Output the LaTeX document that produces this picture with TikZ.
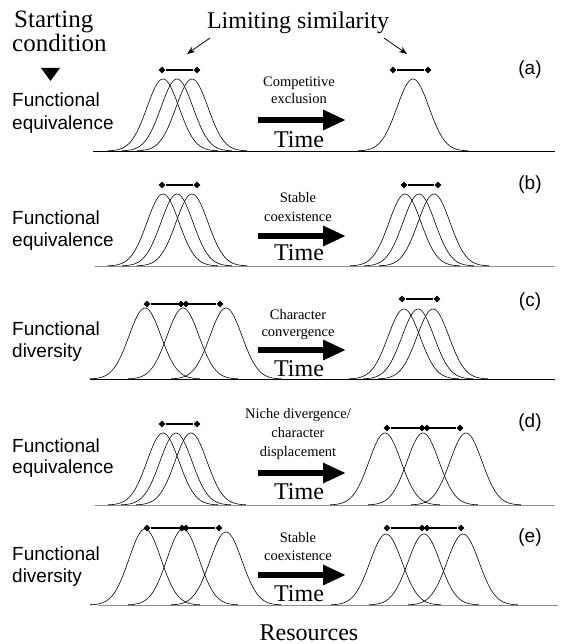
\documentclass[tikz,border=0pt]{standalone}
\usepackage{fontspec}
\setmainfont{Liberation Serif}
\setsansfont{Liberation Sans}
\usetikzlibrary{arrows.meta,shapes.geometric}
\newcommand\gaussc[3]{\draw[curve] plot[domain=-55:55,samples=75,smooth] ({#1+\x},{#2-#3*exp(-(\x*\x)/(2*16*16))});}
\tikzset{
 curve/.style={line width=0.6pt},
 baseln/.style={line width=0.9pt},
 greyln/.style={line width=0.9pt, draw=black!45},
 simbar/.style={line width=1.1pt},
 dia/.style={diamond, fill=black, inner sep=0pt, minimum width=7pt, minimum height=7pt},
 func/.style={font=\sffamily\fontsize{19}{22}\selectfont, anchor=base west, inner sep=0pt},
 plab/.style={font=\sffamily\fontsize{19}{22}\selectfont, inner sep=0pt},
 proc/.style={font=\fontsize{14.5}{18}\selectfont, anchor=base, inner sep=0pt},
 timelab/.style={font=\fontsize{24}{28}\selectfont, anchor=base, inner sep=0pt},
 headlab/.style={font=\fontsize{25}{29}\selectfont, anchor=base west, inner sep=0pt},
 timearrow/.style={line width=6pt, -{Triangle[length=23pt,width=19pt]}},
 pointer/.style={line width=0.8pt, -{Stealth[length=8pt,width=6pt]}},
}
\begin{document}
\begin{tikzpicture}[x=1pt,y=-1pt]
\useasboundingbox (0,0) rectangle (562,644);
% header
\node[headlab] (start1) at (14,28) {Starting};
\node[headlab] (start2) at (12,51.5) {condition};
\fill (41,68) -- (60,68) -- (50.5,81) -- cycle;
\node[timelab] (lim) at (298,29) {Limiting similarity};
\coordinate (lp1s) at (210,38); \coordinate (lp1e) at (187,54);
\coordinate (lp2s) at (384,38); \coordinate (lp2e) at (407,54);
\draw[pointer] (lp1s) -- (lp1e);
\draw[pointer] (lp2s) -- (lp2e);
% ---------- panel a
\draw[baseln] (93,151) -- (555,151);
\gaussc{163}{151}{72}\gaussc{177}{151}{72}\gaussc{192}{151}{72}
\gaussc{413}{151}{72}
\node[dia] (a1) at (162,70) {}; \node[dia] (a2) at (197,70) {};
\draw[simbar] (a1) -- (a2);
\node[dia] (a3) at (393,70) {}; \node[dia] (a4) at (428,70) {};
\draw[simbar] (a3) -- (a4);
\node[func] (fa1) at (12,107) {Functional};
\node[func] (fa2) at (12,130) {equivalence};
\node[proc] (pa1) at (299,87) {Competitive};
\node[proc] (pa2) at (299,104) {exclusion};
\coordinate (as) at (258,120); \coordinate (ae) at (346,120);
\draw[timearrow] (as) -- (ae);
\node[timelab] (ta) at (299,148) {Time};
\node[plab] (la) at (530,70) {(a)};
% ---------- panel b
\draw[greyln] (95,266) -- (555,266);
\gaussc{163}{266}{72}\gaussc{177}{266}{72}\gaussc{192}{266}{72}
\gaussc{405}{266}{72}\gaussc{419}{266}{72}\gaussc{434}{266}{72}
\node[dia] (b1) at (162,185) {}; \node[dia] (b2) at (197,185) {};
\draw[simbar] (b1) -- (b2);
\node[dia] (b3) at (404,185) {}; \node[dia] (b4) at (438,185) {};
\draw[simbar] (b3) -- (b4);
\node[func] (fb1) at (12,224) {Functional};
\node[func] (fb2) at (12,246) {equivalence};
\node[proc] (pb1) at (298,203) {Stable};
\node[proc] (pb2) at (298,221) {coexistence};
\coordinate (bs) at (258,236); \coordinate (be) at (346,236);
\draw[timearrow] (bs) -- (be);
\node[timelab] (tb) at (299,260) {Time};
\node[plab] (lb) at (530,185) {(b)};
% ---------- panel c
\draw[baseln] (90,379) -- (555,379);
\gaussc{145}{379}{71}\gaussc{183}{379}{71}\gaussc{226}{379}{71}
\gaussc{404}{379}{70}\gaussc{418}{379}{70}\gaussc{433}{379}{70}
\node[dia] (c1) at (147,304) {}; \node[dia] (c2) at (181,304) {};
\node[dia] (c3) at (186,304) {}; \node[dia] (c4) at (220,304) {};
\draw[simbar] (c1) -- (c4);
\node[dia] (c5) at (402,299) {}; \node[dia] (c6) at (437,299) {};
\draw[simbar] (c5) -- (c6);
\node[func] (fc1) at (12,335) {Functional};
\node[func] (fc2) at (12,357) {diversity};
\node[proc] (pc1) at (298,319) {Character};
\node[proc] (pc2) at (298,336) {convergence};
\coordinate (cs) at (258,350); \coordinate (ce) at (346,350);
\draw[timearrow] (cs) -- (ce);
\node[timelab] (tc) at (299,376) {Time};
\node[plab] (lc) at (530,302) {(c)};
% ---------- panel d
\draw[greyln] (95,505) -- (555,505);
\gaussc{163}{505}{72}\gaussc{176}{505}{72}\gaussc{191}{505}{72}
\gaussc{385}{505}{72}\gaussc{423}{505}{72}\gaussc{466}{505}{72}
\node[dia] (d1) at (162,424) {}; \node[dia] (d2) at (197,424) {};
\draw[simbar] (d1) -- (d2);
\node[dia] (d3) at (387,428) {}; \node[dia] (d4) at (422,428) {};
\node[dia] (d5) at (427,428) {}; \node[dia] (d6) at (460,428) {};
\draw[simbar] (d3) -- (d6);
\node[func] (fd1) at (12,452) {Functional};
\node[func] (fd2) at (12,473) {equivalence};
\node[proc] (pd1) at (298,418) {Niche divergence/};
\node[proc] (pd2) at (298,437) {character};
\node[proc] (pd3) at (298,456) {displacement};
\coordinate (ds) at (258,473); \coordinate (de) at (346,473);
\draw[timearrow] (ds) -- (de);
\node[timelab] (td) at (299,499) {Time};
\node[plab] (ld) at (530,423) {(d)};
% ---------- panel e
\draw[greyln] (98,605) -- (558,605);
\gaussc{145}{605}{76}\gaussc{183}{605}{76}\gaussc{226}{605}{73}
\gaussc{386}{605}{71}\gaussc{424}{605}{71}\gaussc{463}{605}{71}
\node[dia] (e1) at (147,528) {}; \node[dia] (e2) at (182,528) {};
\node[dia] (e3) at (186,528) {}; \node[dia] (e4) at (219,528) {};
\draw[simbar] (e1) -- (e4);
\node[dia] (e5) at (387,528) {}; \node[dia] (e6) at (422,528) {};
\node[dia] (e7) at (427,528) {}; \node[dia] (e8) at (461,528) {};
\draw[simbar] (e5) -- (e8);
\node[func] (fe1) at (12,560) {Functional};
\node[func] (fe2) at (12,582) {diversity};
\node[proc] (pe1) at (298,542) {Stable};
\node[proc] (pe2) at (298,560) {coexistence};
\coordinate (es) at (258,575); \coordinate (ee) at (346,575);
\draw[timearrow] (es) -- (ee);
\node[timelab] (te) at (299,601) {Time};
\node[plab] (le) at (530,538) {(e)};
\node[timelab] (res) at (309,640) {Resources};
\end{tikzpicture}
\end{document}
